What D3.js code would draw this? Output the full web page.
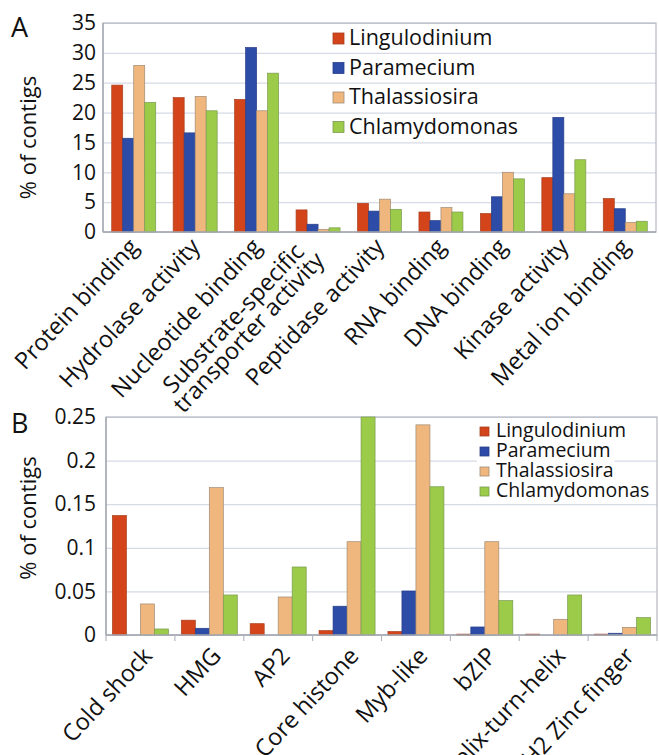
<!DOCTYPE html>
<html><head><meta charset="utf-8">
<script src="https://cdn.jsdelivr.net/npm/d3@7"></script>
<style>body{margin:0;background:#fff}svg{display:block}text{font-family:"Open Sans",sans-serif;fill:#111}</style>
</head><body>
<script>
const series = ["Lingulodinium","Paramecium","Thalassiosira","Chlamydomonas"];
const colors = ["#d4441b","#2c4ca8","#efb77d","#9ccb49"];
const strokes = ["#a8401f","#2a3f86","#a08a74","#7a9a50"];

const categoriesA = ["Protein binding","Hydrolase activity","Nucleotide binding","Substrate-specific\ntransporter activity","Peptidase activity","RNA binding","DNA binding","Kinase activity","Metal ion binding"];
const lingA = [24.6,22.5,22.2,3.7,4.8,3.35,3.1,9.1,5.6];
const paraA = [15.7,16.6,30.9,1.3,3.5,1.9,5.9,19.2,3.9];
const thalA = [27.9,22.7,20.3,0.45,5.5,4.1,10.0,6.4,1.6];
const chlaA = [21.7,20.3,26.6,0.7,3.8,3.35,8.9,12.1,1.8];
const ticksA = [0,5,10,15,20,25,30,35];
const tickLabelsA = ["0","5","10","15","20","25","30","35"];

const categoriesB = ["Cold shock","HMG","AP2","Core histone","Myb-like","bZIP","Helix-turn-helix","C2H2 Zinc finger"];
const lingB = [0.137,0.017,0.013,0.005,0.004,0.001,0.001,0.001];
const paraB = [0,0.0077,0,0.033,0.0505,0.0092,0,0.002];
const thalB = [0.0356,0.169,0.0436,0.107,0.241,0.107,0.018,0.0088];
const chlaB = [0.0069,0.0459,0.078,0.25,0.170,0.0394,0.0459,0.0199];
const ticksB = [0,0.05,0.1,0.15,0.2,0.25];
const tickLabelsB = ["0","0.05","0.1","0.15","0.2","0.25"];

const svg = d3.select("body").append("svg").attr("width",659).attr("height",755);

function panel(o){
  const g = svg.append("g");
  const x0 = d3.scaleBand().domain(o.cats).range([o.left,o.right]).padding(0);
  const bw = x0.bandwidth();
  const gw = bw*o.groupFrac;
  const x1 = d3.scaleBand().domain(series).range([(bw-gw)/2,(bw+gw)/2]).padding(0);
  const y = d3.scaleLinear().domain([0,o.max]).range([o.bottom,o.top]);
  const ax = g.append("g").attr("transform",`translate(${o.left},0)`)
    .call(d3.axisLeft(y).tickValues(o.ticks).tickSize(-(o.right-o.left)).tickPadding(8)
      .tickFormat((d,i)=>o.tickLabels[i]));
  ax.select(".domain").remove();
  ax.selectAll(".tick line").attr("stroke","#d5dae4").attr("stroke-width",1.2);
  ax.selectAll(".tick text").style("font-size",o.tickFont+"px").attr("fill","#111").attr("x",o.tickX-o.left);
  g.append("rect").attr("x",o.left).attr("y",o.top).attr("width",o.right-o.left).attr("height",o.bottom-o.top)
    .attr("fill","none").attr("stroke","#b4b8c2").attr("stroke-width",1.2);
  const lg = g.append("g");
  series.forEach((s,i)=>{
    const by = o.legY + i*o.legDy;
    const t = lg.append("text").attr("x",o.legX+o.legTextOff).attr("y",by).style("font-size",o.legFont+"px").text(s);
    if(o.legBg){
      const bb = t.node().getBBox();
      lg.insert("rect","text").attr("x",o.legX-3).attr("y",bb.y+3).attr("width",bb.x+bb.width-o.legX+4).attr("height",bb.height-6).attr("fill","#fff");
    }
    lg.append("rect").attr("x",o.legX).attr("y",by-o.legSq-1).attr("width",o.legSq).attr("height",o.legSq)
      .attr("fill",colors[i]).attr("stroke",strokes[i]).attr("stroke-width",0.8);
  });
  const data = o.vals;
  const grp = g.selectAll(".grp").data(o.cats).join("g").attr("transform",d=>`translate(${x0(d)},0)`);
  grp.selectAll("rect").data((d,ci)=>series.map((s,si)=>({s,si,v:data[si][ci]}))).join("rect")
    .filter(d=>d.v>0)
    .attr("x",d=>x1(d.s)).attr("width",x1.bandwidth())
    .attr("y",d=>y(d.v)).attr("height",d=>o.bottom-y(d.v))
    .attr("fill",d=>colors[d.si]).attr("stroke",d=>strokes[d.si]).attr("stroke-width",0.7);
  g.append("line").attr("x1",o.left).attr("x2",o.right).attr("y1",o.bottom).attr("y2",o.bottom).attr("stroke","#a4a8b2").attr("stroke-width",1.4);
  g.append("line").attr("x1",o.left).attr("x2",o.left).attr("y1",o.top).attr("y2",o.bottom).attr("stroke","#a4a8b2").attr("stroke-width",1.4);
  if(o.boundTicks){
    o.cats.forEach((c,i)=>{
      const xx = x0(c);
      g.append("line").attr("x1",xx).attr("x2",xx).attr("y1",o.bottom).attr("y2",o.bottom+6).attr("stroke","#b4b8c2").attr("stroke-width",1.2);
    });
    g.append("line").attr("x1",o.right).attr("x2",o.right).attr("y1",o.bottom).attr("y2",o.bottom+6).attr("stroke","#b4b8c2").attr("stroke-width",1.2);
  }
  o.cats.forEach(c=>{
    const cx = x0(c)+bw/2;
    const lines = c.split("\n");
    const t = g.append("text").attr("transform",`translate(${cx+o.labDx},${o.bottom+o.labDy}) rotate(${o.angle})`)
      .style("font-size",o.labFont+"px").attr("text-anchor","end");
    if(lines.length===1){ t.text(c); }
    else {
      const n = lines.length;
      const tsp = lines.map((l,i)=>t.append("tspan").attr("y",(i-(n-1)/2)*o.lineH).text(l));
      const ws = tsp.map(s=>s.node().getComputedTextLength());
      const mw = d3.max(ws);
      tsp.forEach((s,i)=>s.attr("x",-9-(mw-ws[i])/2));
    }
  });
  g.append("text").attr("transform",`translate(${o.titleX},${(o.top+o.bottom)/2+o.titleDy}) rotate(-90)`)
    .attr("text-anchor","middle").style("font-size",o.titleFont+"px").text("% of contigs");
  g.append("text").attr("x",11).attr("y",o.panelY).style("font-size","27px").text(o.panel);
}

panel({cats:categoriesA, vals:[lingA,paraA,thalA,chlaA], left:103, right:656, top:23, bottom:232, max:35,
  ticks:ticksA, tickLabels:tickLabelsA, tickFont:21, tickX:96, groupFrac:0.716,
  legX:333, legY:45, legDy:29.5, legSq:11, legTextOff:16, legFont:21.5, legBg:false,
  labDx:6, labDy:16, angle:-47, labFont:23.5, lineH:21,
  titleX:36, titleDy:10, titleFont:22, panel:"A", panelY:37, boundTicks:false});

panel({cats:categoriesB, vals:[lingB,paraB,thalB,chlaB], left:106, right:657, top:417, bottom:635, max:0.25,
  ticks:ticksB, tickLabels:tickLabelsB, tickFont:21, tickX:96, groupFrac:0.813,
  legX:480, legY:437, legDy:20, legSq:9, legTextOff:16, legFont:19.5, legBg:true,
  labDx:13, labDy:22, angle:-47, labFont:23.5, lineH:21,
  titleX:36, titleDy:-8, titleFont:22, panel:"B", panelY:433, boundTicks:true});
</script>
</body></html>
